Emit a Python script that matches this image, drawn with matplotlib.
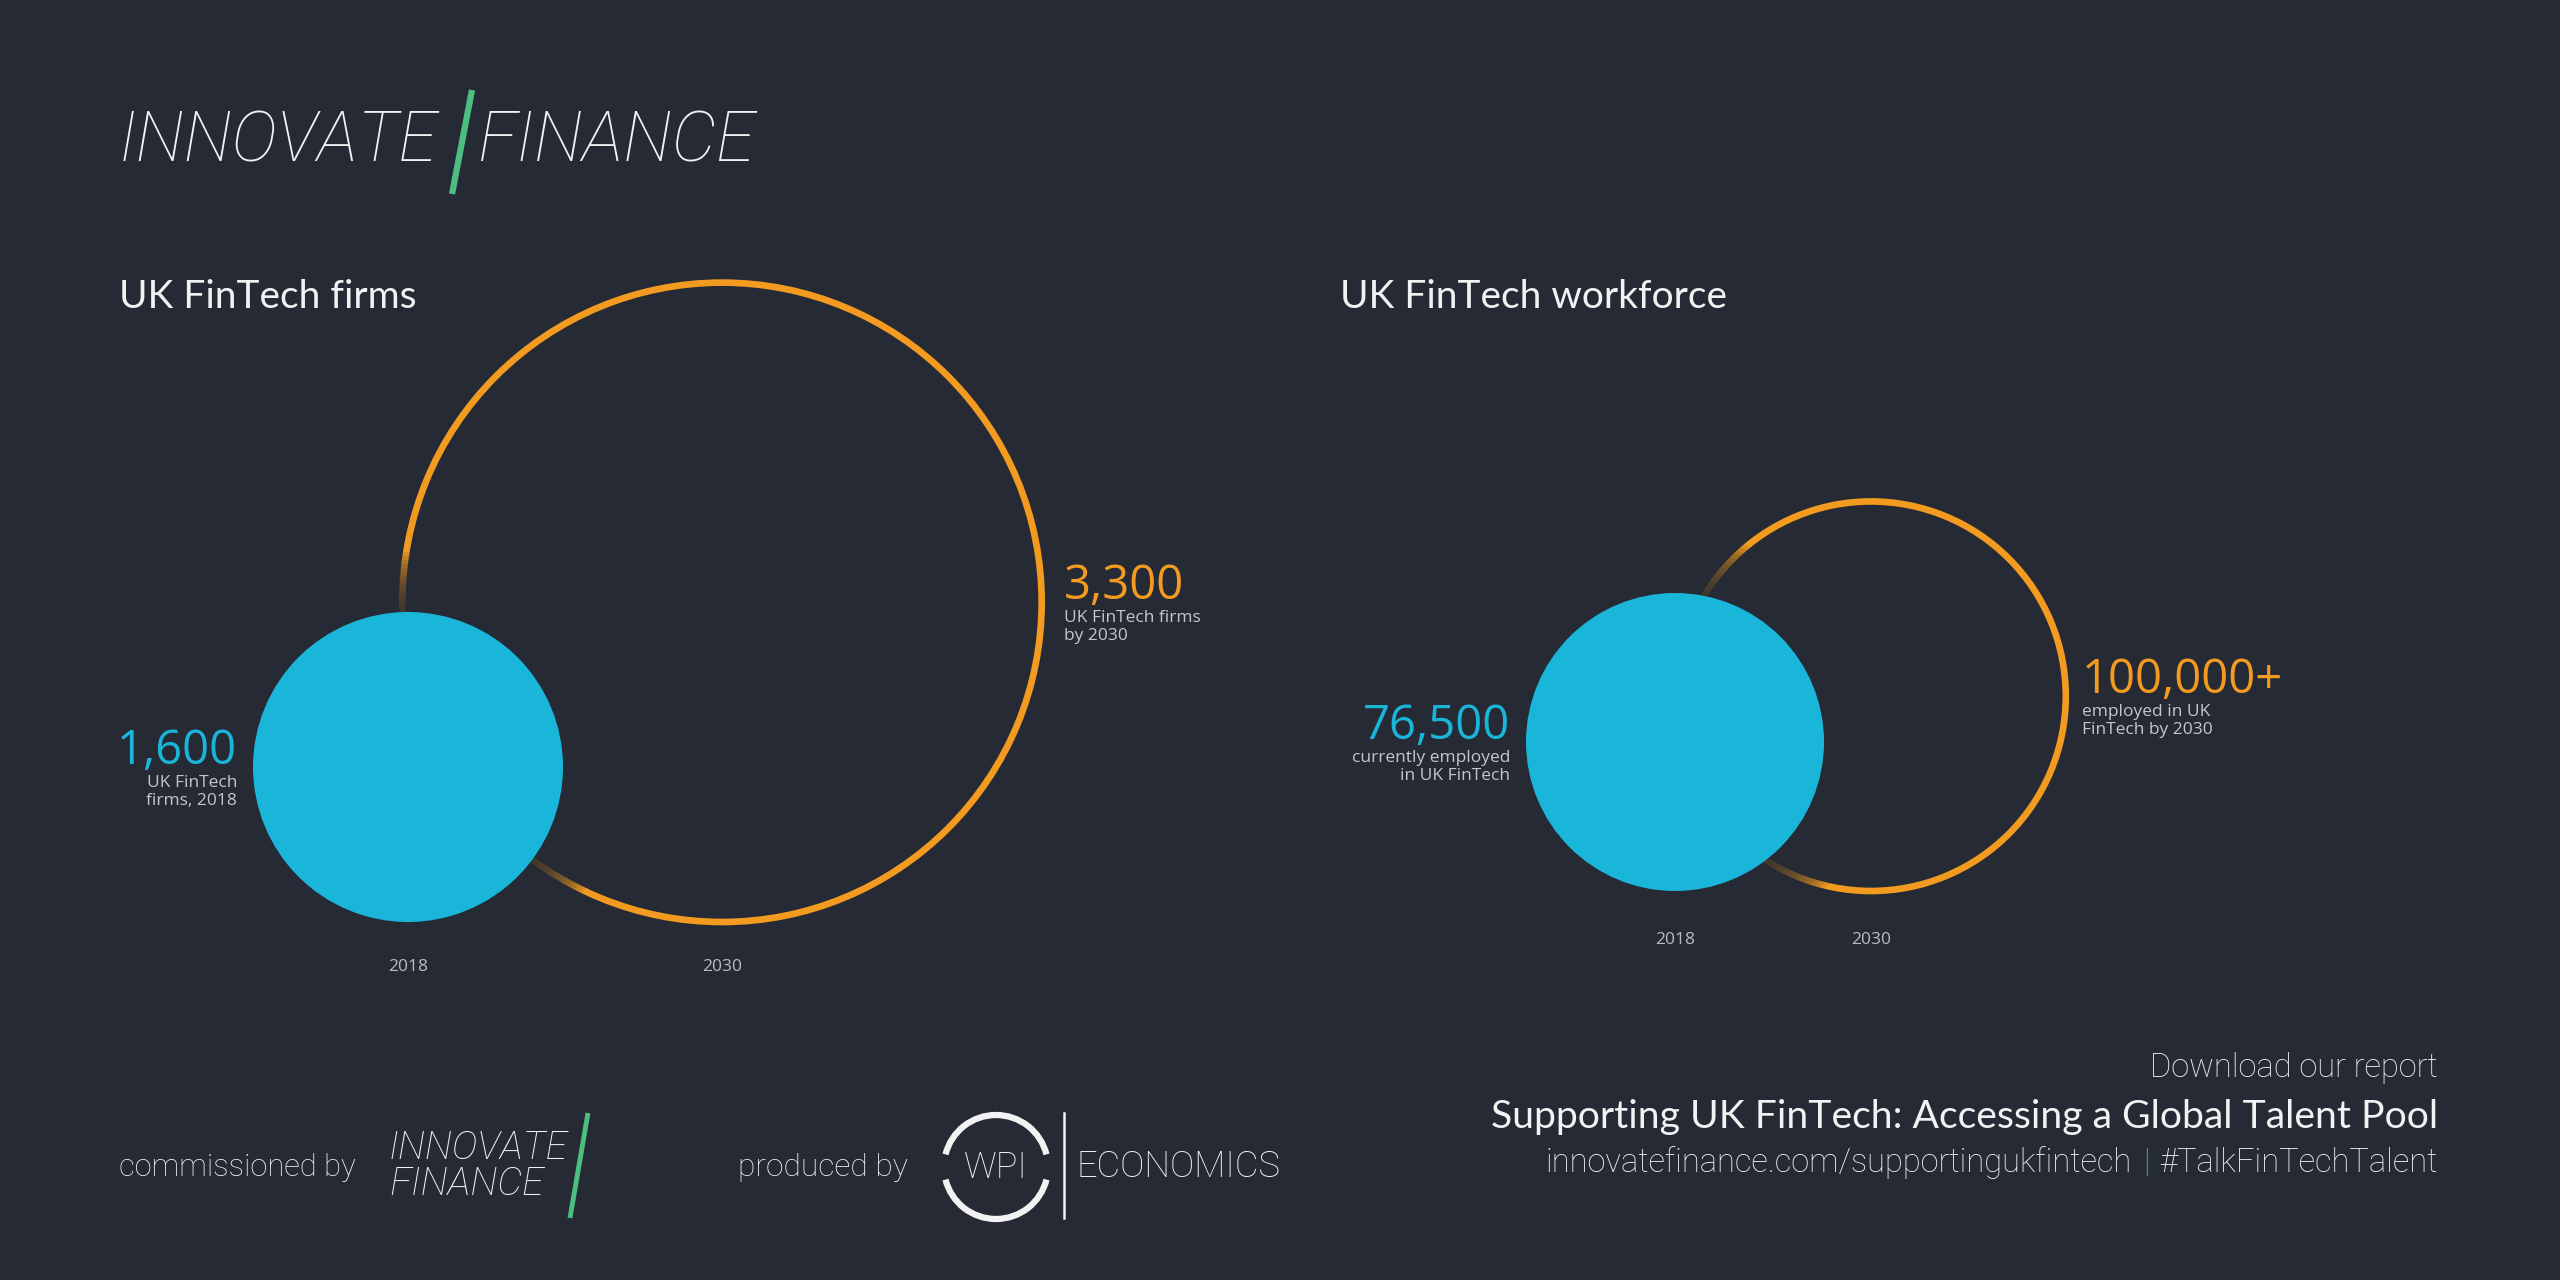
import matplotlib.pyplot as plt
from matplotlib.patches import Circle, Arc

# data
chart_titles = ["UK FinTech firms", "UK FinTech workforce"]
years = ["2018", "2030"]
firms = [1600, 3300]
firms_text = ["1,600", "3,300"]
firms_notes = ["UK FinTech\nfirms, 2018", "UK FinTech firms\nby 2030"]
workforce = [76500, 100000]
workforce_text = ["76,500", "100,000+"]
workforce_notes = ["currently employed\nin UK FinTech", "employed in UK\nFinTech by 2030"]

BG = "#252a35"
BLUE = "#19b6d9"
ORANGE = "#f39b20"
GREEN = "#4cbf80"
WHITE = "#f2f2f2"
GREY = "#c4c6cb"
SANS = ["Lato", "DejaVu Sans"]
THIN = ["Roboto", "DejaVu Sans"]
NUM = ["Open Sans", "DejaVu Sans"]

fig = plt.figure(figsize=(25.6, 12.8), dpi=100, facecolor=BG)
ax = fig.add_axes([0, 0, 1, 1])
ax.set_xlim(0, 2560)
ax.set_ylim(1280, 0)
ax.set_aspect("equal")
ax.axis("off")
ax.set_facecolor(BG)


def extent(t):
    fig.canvas.draw()
    return t.get_window_extent().transformed(ax.transData.inverted())


def fit(t, width):
    # scale the font so the text spans the given width (pixels)
    bb = extent(t)
    t.set_fontsize(t.get_fontsize() * width / (bb.x1 - bb.x0))
    return extent(t)


def bubble_pair(values, texts, notes, title, x_pos, base, px_per_unit, title_x, year_gap, right_gap):
    r0, r1 = values[0] * px_per_unit, values[1] * px_per_unit
    x0, x1 = x_pos
    c0, c1 = base - r0, base - r1
    # 2030 ring
    ax.add_patch(Circle((x1, c1), r1, fill=False, ec=ORANGE, lw=4.8, zorder=2))
    # soft shadow of the 2018 disc over the ring
    for d in range(60, 0, -4):
        ax.add_patch(Circle((x0, c0), r0 + d, fc=BG, ec="none", alpha=0.12, zorder=3))
    ax.add_patch(Circle((x0, c0), r0, fc=BLUE, ec="none", zorder=4))

    ax.text(x0 - r0 - 16, c0 - 16, texts[0], color=BLUE, fontsize=34, family=NUM,
            ha="right", va="center", zorder=5)
    ax.text(x0 - r0 - 16, c0 + 8, notes[0], color=GREY, fontsize=12.5, family=NUM,
            ha="right", va="top", linespacing=1.15, zorder=5)
    ax.text(x1 + r1 + right_gap, c1 - 16, texts[1], color=ORANGE, fontsize=34, family=NUM,
            ha="left", va="center", zorder=5)
    ax.text(x1 + r1 + right_gap, c1 + 8, notes[1], color=GREY, fontsize=12.5, family=NUM,
            ha="left", va="top", linespacing=1.15, zorder=5)

    for xx, yr in zip(x_pos, years):
        ax.text(xx, base + year_gap, yr, color="#b9bcc2", fontsize=12.5, family=NUM,
                ha="center", va="center")
    ax.text(title_x, 297, title, color=WHITE, fontsize=28, family=SANS,
            ha="left", va="center")


bubble_pair(firms, firms_text, firms_notes, chart_titles[0],
            (408, 722), 922, 155 / 1600, 119, 45, 22)
bubble_pair(workforce, workforce_text, workforce_notes, chart_titles[1],
            (1675, 1871), 891, 149 / 76500, 1340, 49, 16)

# header logo
logo_kw = dict(color=WHITE, family=THIN, fontweight="light", style="italic", va="center")
t1 = ax.text(119, 142, "INNOVATE", fontsize=54, ha="left", **logo_kw)
fit(t1, 319)
t2 = ax.text(478, 142, "FINANCE", fontsize=54, ha="left", **logo_kw)
fit(t2, 278)
ax.plot([472, 452], [90, 194], color=GREEN, lw=4.5, solid_capstyle="butt")

# footer left
foot_kw = dict(color=WHITE, family=THIN, fontweight="light", va="center")
fit(ax.text(119, 1167, "commissioned by", fontsize=24, ha="left", **foot_kw), 237)
t3 = ax.text(389, 1166, "INNOVATE\nFINANCE", fontsize=28, ha="left", linespacing=0.95, **logo_kw)
fit(t3, 179)
ax.plot([588, 570], [1113, 1218], color=GREEN, lw=3.5, solid_capstyle="butt")

fit(ax.text(738, 1167, "produced by", fontsize=24, ha="left", **foot_kw), 170)
ax.add_patch(Arc((996, 1167), 104, 104, theta1=14, theta2=166, color=WHITE, lw=4.5))
ax.add_patch(Arc((996, 1167), 104, 104, theta1=194, theta2=346, color=WHITE, lw=4.5))
ax.text(996, 1168, "WPI", fontsize=26, ha="center", **foot_kw)
ax.plot([1064, 1064], [1113, 1218], color=WHITE, lw=1.8)
fit(ax.text(1076, 1167, "ECONOMICS", fontsize=24, ha="left", **foot_kw), 204)

# footer right
fit(ax.text(2438, 1068, "Download our report", fontsize=24, ha="right", **foot_kw), 289)
fit(ax.text(2438, 1117, "Supporting UK FinTech: Accessing a Global Talent Pool", color=WHITE,
            fontsize=28, family=SANS, ha="right", va="center"), 947)
t = ax.text(2438, 1163, "#TalkFinTechTalent", fontsize=24, ha="right", **foot_kw)
bb = fit(t, 278)
fs = t.get_fontsize()
ax.text(bb.x0 - 10, 1163, "|", color=GREEN, fontsize=fs, family=THIN,
        fontweight="light", ha="right", va="center")
t4 = ax.text(bb.x0 - 28, 1163, "innovatefinance.com/supportingukfintech", fontsize=fs,
             ha="right", **foot_kw)

fig.savefig("out.png", dpi=100, facecolor=BG)
